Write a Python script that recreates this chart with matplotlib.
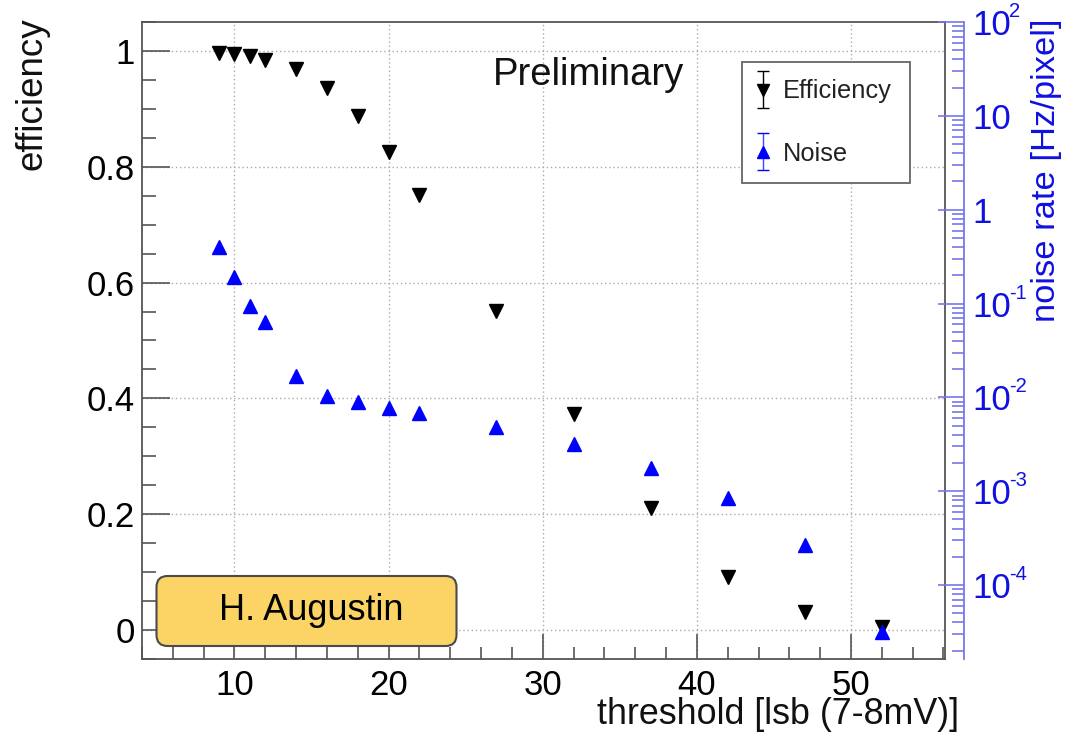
import numpy as np
import matplotlib
matplotlib.use("Agg")
import matplotlib.pyplot as plt
from matplotlib.ticker import MultipleLocator, FixedLocator, LogLocator, FuncFormatter, NullFormatter
from matplotlib.patches import FancyBboxPatch
from matplotlib.legend_handler import HandlerErrorbar

plt.rcParams['font.family'] = ['Liberation Sans', 'DejaVu Sans']

# ---- data ----
threshold = [9, 10, 11, 12, 14, 16, 18, 20, 22, 27, 32, 37, 42, 47, 52]
efficiency = [0.997, 0.995, 0.992, 0.985, 0.968, 0.936, 0.888, 0.825, 0.751,
              0.551, 0.373, 0.211, 0.091, 0.032, 0.005]
noise_rate = [0.40, 0.19, 0.095, 0.063, 0.0171, 0.0103, 0.0090, 0.0077, 0.0069,
              0.0048, 0.0032, 0.00176, 0.00084, 0.00027, 3.2e-5]
eff_ticks = [0, 0.2, 0.4, 0.6, 0.8, 1.0]
x_ticks = [10, 20, 30, 40, 50]
noise_ticks = [1e-4, 1e-3, 1e-2, 1e-1, 1, 10, 100]

W, H = 1065, 741
fig = plt.figure(figsize=(W / 100, H / 100), dpi=100)
fig.patch.set_facecolor('white')

L, R, T, B = 142, 945, 22, 659
ax = fig.add_axes([L / W, 1 - B / H, (R - L) / W, (B - T) / H])
ax.set_xlim(4, 56.1)
ax.set_ylim(-0.05, 1.05)

frame_col = '#555555'
for s in ax.spines.values():
    s.set_color(frame_col)
    s.set_linewidth(1.3)

ax.xaxis.set_major_locator(FixedLocator(x_ticks))
ax.xaxis.set_minor_locator(MultipleLocator(2))
ax.yaxis.set_major_locator(FixedLocator(eff_ticks))
ax.yaxis.set_minor_locator(MultipleLocator(0.05))
ax.yaxis.set_major_formatter(FuncFormatter(lambda v, p: '%g' % v))
ax.tick_params(axis='both', which='both', direction='in', colors=frame_col,
               labelcolor='black', width=1.2)
ax.tick_params(axis='y', which='major', length=20, pad=5, labelsize=25)
ax.tick_params(axis='y', which='minor', length=10)
ax.tick_params(axis='x', which='major', length=18, pad=7, labelsize=25)
ax.tick_params(axis='x', which='minor', length=9)
ax.tick_params(right=False, top=False, which='both')
ax.grid(True, which='major', linestyle=(0, (1, 2)), color='#aaaaaa', linewidth=1.0)

ax.plot(threshold, efficiency, linestyle='none', marker='v', color='black',
        markersize=9.5, zorder=3)

# ---- right log axis ----
ax2 = ax.twinx()
ax2.set_yscale('log')
ax2.set_ylim(1.63e-5, 100)
blue_line = '#7777ee'
blue_text = '#1010e0'
OUT_PX = 14
LAB_PAD = 5.5
ax2.spines['right'].set_position(('outward', OUT_PX))
ax2.spines['right'].set_color(blue_line)
ax2.spines['right'].set_linewidth(1.3)
for k in ['left', 'top', 'bottom']:
    ax2.spines[k].set_visible(False)
ax2.yaxis.set_major_locator(FixedLocator(noise_ticks))
ax2.yaxis.set_minor_locator(LogLocator(base=10, subs=np.arange(2, 10), numticks=20))
ax2.yaxis.set_minor_formatter(NullFormatter())


def base_fmt(v, p):
    return '1' if abs(v - 1) < 1e-9 else '10'


ax2.yaxis.set_major_formatter(FuncFormatter(base_fmt))
ax2.tick_params(axis='y', which='both', direction='in', colors=blue_line,
                labelcolor=blue_text, width=1.2)
ax2.tick_params(axis='y', which='major', length=19, pad=LAB_PAD, labelsize=25)
ax2.tick_params(axis='y', which='minor', length=9)

# exponents as superscripts (ROOT style "10^n", n != 0, 1)
sup_dx_pt = (OUT_PX + LAB_PAD * 100 / 72 + 1.112 * 25 * 100 / 72 + 3.5) * 72 / 100
for v in noise_ticks:
    e = int(round(np.log10(v)))
    if e in (0, 1):
        continue
    ax2.annotate(str(e), xy=(1, v), xycoords=ax2.get_yaxis_transform(),
                 xytext=(sup_dx_pt, 7.5), textcoords='offset points',
                 fontsize=14.5, color=blue_text, ha='left', va='center',
                 annotation_clip=False)

ax2.plot(threshold, noise_rate, linestyle='none', marker='^', color='#0000ff',
         markersize=9.5, zorder=3)

# ---- legend (proxy errorbar handles) ----
h1 = ax2.errorbar([np.nan], [np.nan], yerr=[0], fmt='v', color='black', ms=9,
                  capsize=4, elinewidth=1.0, label='Efficiency')
h2 = ax2.errorbar([np.nan], [np.nan], yerr=[0], fmt='^', color='#0000ff', ms=9,
                  capsize=4, elinewidth=1.0, label='Noise')
h2[2][0].set_color('#4444ff')
leg = ax2.legend(handles=[h1, h2], loc='upper left',
                 bbox_to_anchor=(741.7 / W, 1 - 61.7 / H), bbox_transform=fig.transFigure,
                 borderaxespad=0, fontsize=18.3, frameon=True, fancybox=False,
                 edgecolor='#666666', framealpha=1, borderpad=0.7, labelspacing=1.5,
                 handlelength=0.3, handletextpad=0.62,
                 handler_map={type(h1): HandlerErrorbar(yerr_size=0.72)})
leg.get_frame().set_linewidth(1.3)
for t in leg.get_texts():
    t.set_color('#222222')

# ---- texts ----
fig.text(588 / W, 1 - 75 / H, 'Preliminary', fontsize=27.5, ha='center', va='center',
         color='#111111')
fig.text(32 / W, 1 - 17 / H, 'efficiency', rotation=90, fontsize=26.5,
         ha='center', va='top', color='#111111')
fig.text(959 / W, 1 - 714 / H, 'threshold [lsb (7-8mV)]', fontsize=25.8,
         ha='right', va='center', color='#111111')
fig.text(1046.3 / W, 1 - 18 / H, 'noise rate [Hz/pixel]', rotation=90, fontsize=24.8,
         ha='center', va='top', color=blue_text)

box = FancyBboxPatch((1.565, (741 - 646) / 100), 3.0, 0.70,
                     boxstyle='round,pad=0,rounding_size=0.11',
                     transform=fig.dpi_scale_trans, facecolor='#fbd465',
                     edgecolor='#4a4a4a', linewidth=1.5, zorder=5)
fig.add_artist(box)
fig.text(311 / W, 1 - 611 / H, 'H. Augustin', fontsize=26, ha='center', va='center',
         color='black', zorder=6)

fig.savefig('out.png', dpi=100)
